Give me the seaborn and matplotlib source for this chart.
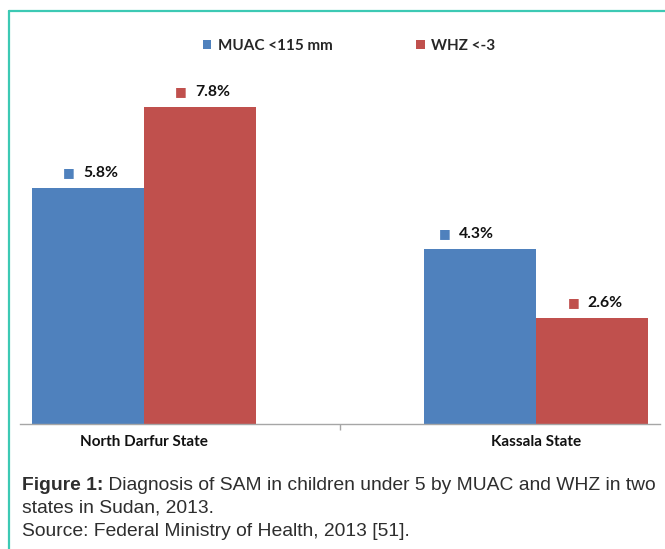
import pandas as pd
import matplotlib
matplotlib.use("Agg")
import matplotlib.pyplot as plt
from matplotlib.patches import Patch
from matplotlib.lines import Line2D
import seaborn as sns

# Chart data
states = ['North Darfur State', 'Kassala State']
measures = ['MUAC <115 mm', 'WHZ <-3']
muac = [5.8, 4.3]
whz = [7.8, 2.6]
colors = ['#4F81BD', '#C0504D']

df = pd.DataFrame({
    'state': states * 2,
    'measure': [measures[0]] * 2 + [measures[1]] * 2,
    'value': muac + whz,
})

sns.set_theme(style='white')
plt.rcParams['font.family'] = ['Lato', 'DejaVu Sans']

fig = plt.figure(figsize=(6.65, 5.49), dpi=100)
ax = fig.add_axes([0.0301, 0.2282, 0.9624, 0.6656])

sns.barplot(data=df, x='state', y='value', hue='measure', order=states,
            hue_order=measures, palette=colors, width=0.57, saturation=1,
            linewidth=0, ax=ax)
ax.get_legend().remove()

ax.set_xlim(-0.315, 1.315)
ax.set_ylim(0, 9)
ax.set_xlabel('')
ax.set_ylabel('')
ax.set_yticks([])
for s in ['top', 'left', 'right']:
    ax.spines[s].set_visible(False)
ax.spines['bottom'].set_color('#a6a6a6')
ax.spines['bottom'].set_linewidth(1.0)

# category labels without tick marks, divider tick between groups
ax.set_xticks([0, 1])
ax.set_xticklabels(states, fontsize=11, fontweight='bold', color='#111111')
ax.tick_params(axis='x', which='major', length=0, pad=8)
ax.set_xticks([0.5], minor=True)
ax.tick_params(axis='x', which='minor', length=4.5, width=1, color='#a6a6a6', bottom=True)

# value labels with a small colour square
for patch in ax.patches:
    h = patch.get_height()
    if h <= 0:
        continue
    xc = patch.get_x() + patch.get_width() / 2
    col = patch.get_facecolor()
    nudge = -12 if abs(h - 4.3) < 1e-9 else 0
    ax.annotate('■', xy=(xc, h), xytext=(-13.5 + nudge, 11), textcoords='offset points',
                ha='center', va='center', fontsize=9, color=col,
                family=['DejaVu Sans'])
    ax.annotate(f'{h:.1f}%', xy=(xc, h), xytext=(-3.5 + nudge, 11), textcoords='offset points',
                ha='left', va='center', fontsize=11.3, fontweight='bold', color='#111111')

# legend at top
handles = [Patch(facecolor=c, edgecolor='none', label=m) for c, m in zip(colors, measures)]
fig.legend(handles=handles, loc='center', bbox_to_anchor=(349 / 665, 1 - 46 / 549),
           ncol=2, frameon=False, handlelength=0.55, handleheight=0.55,
           handletextpad=0.4, columnspacing=5.5,
           prop={'family': 'Lato', 'weight': 'bold', 'size': 11})

# teal frame lines
fig.add_artist(Line2D([9 / 665, 1], [1 - 10.5 / 549, 1 - 10.5 / 549], color='#3cc9b4', lw=1.6))
fig.add_artist(Line2D([9 / 665, 9 / 665], [0, 1 - 10.5 / 549], color='#3cc9b4', lw=1.6))

# caption
cap_font = ['Liberation Sans', 'DejaVu Sans']
cap_size = 13.85
t1 = fig.text(22 / 665, 1 - 485 / 549, 'Figure 1:', fontsize=cap_size, fontweight='bold',
              color='#2e2e2e', family=cap_font, va='center')
ax.annotate(' Diagnosis of SAM in children under 5 by MUAC and WHZ in two',
            xy=(1, 0.5), xycoords=t1, va='center', ha='left', fontsize=cap_size,
            color='#2e2e2e', family=cap_font, annotation_clip=False)
fig.text(22 / 665, 1 - 508 / 549, 'states in Sudan, 2013.', fontsize=cap_size,
         color='#2e2e2e', family=cap_font, va='center')
fig.text(22 / 665, 1 - 531 / 549, 'Source: Federal Ministry of Health, 2013 [51].', fontsize=cap_size,
         color='#2e2e2e', family=cap_font, va='center')

fig.savefig('out.png', dpi=100)
